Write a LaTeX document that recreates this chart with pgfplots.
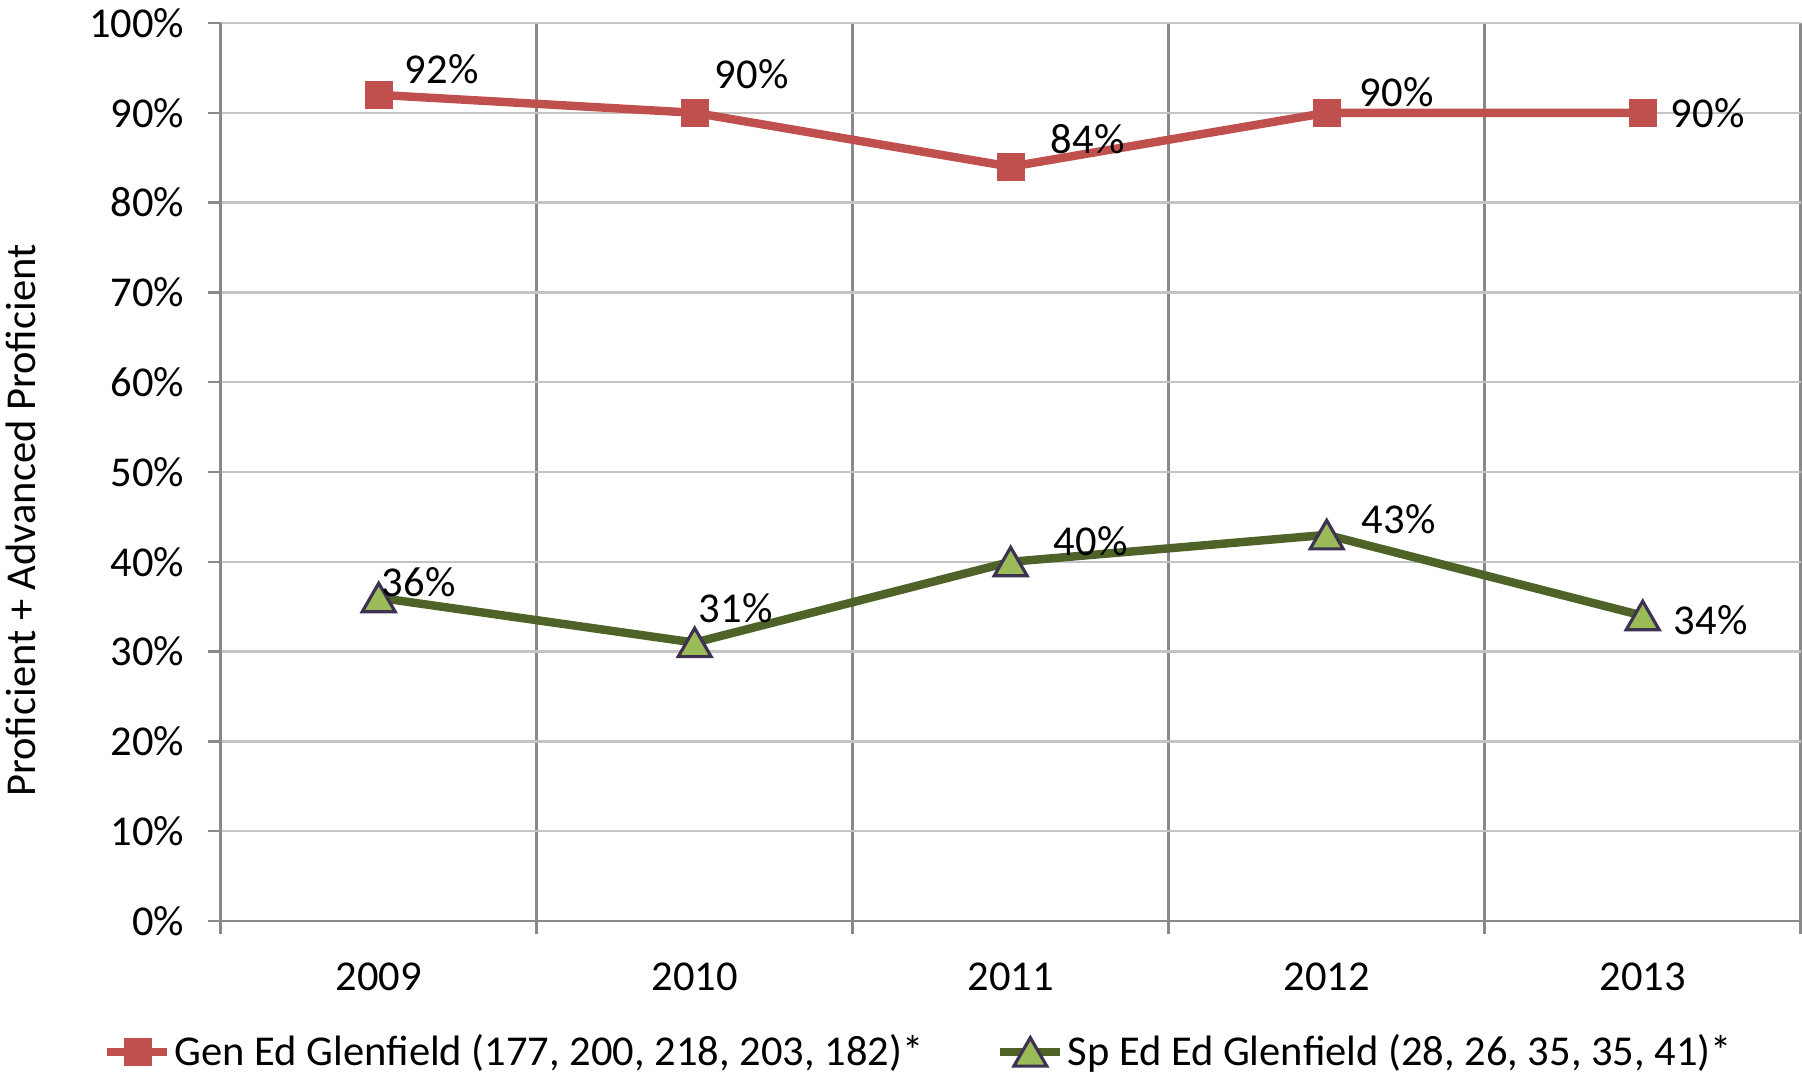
\documentclass[border=0pt]{standalone}
\usepackage{pgfplots}
\pgfplotsset{compat=1.18}
\usepackage{pgfplotstable}
\usepackage{fontspec}
\setmainfont{Carlito}

\definecolor{genred}{HTML}{C0504D}
\definecolor{spgreen}{HTML}{4F6228}
\definecolor{spfill}{HTML}{9BBB59}
\definecolor{spedge}{HTML}{3F3151}
\definecolor{axgray}{HTML}{898989}
\definecolor{gridgray}{HTML}{C4C4C4}

% year index, value, label offset (mm)
\pgfplotstableread{
x y lx ly
0 92 6.3 2.6
1 90 5.7 3.9
2 84 7.7 2.8
3 90 7.0 2.1
4 90 6.5 0.0
}\gened
\pgfplotstableread{
x y lx ly
0 36 4.0 2.0
1 31 4.1 3.9
2 40 8.0 2.5
3 43 7.2 2.0
4 34 6.8 0.0
}\sped

\begin{document}
\begin{tikzpicture}[font=\fontsize{12.1}{14.5}\selectfont]
\begin{axis}[
    at={(0,0)}, anchor=south west,
    scale only axis,
    width=158mm, height=89.8mm,
    xmin=-0.5, xmax=4.5,
    ymin=0, ymax=100,
    axis x line*=bottom, axis y line*=left,
    axis line style={-, axgray, line width=0.7pt},
    xtick={-0.5,0.5,...,4.5},
    xticklabels={2009,2010,2011,2012,2013,},
    xticklabel style={xshift=15.8mm, yshift=-1.6mm},
    ytick={0,10,...,100},
    yticklabel={\pgfmathprintnumber[assume math mode=true]{\tick}\%},
    yticklabel style={xshift=-1.1mm},
    tick align=outside,
    major tick length=1.3mm,
    tick style={axgray, line width=0.7pt},
    xmajorgrids, ymajorgrids,
    x grid style={axgray, line width=0.7pt},
    y grid style={gridgray, line width=0.7pt},
    ylabel={Proficient + Advanced Proficient},
    every axis y label/.style={at={(axis description cs:-0.1264,0.4458)}, rotate=90, anchor=center},
    legend style={at={(axis description cs:0.442,-0.146)}, anchor=center,
        draw=none, legend columns=2,
        /tikz/every even column/.append style={column sep=7mm},
        nodes={inner xsep=0.3mm}},
    legend cell align=left,
    nodes near coords={\pgfmathprintnumber[assume math mode=true]{\pgfplotspointmeta}\%},
    visualization depends on={\thisrow{lx}\as\lx},
    visualization depends on={\thisrow{ly}\as\ly},
    every node near coord/.append style={text=black, anchor=center,
        xshift=\lx*1mm, yshift=\ly*1mm},
]
\addplot[genred, line width=2.4pt, mark=square*, mark size=1.35mm,
    mark options={fill=genred, draw=genred, line width=0.2pt}]
    table[x=x, y=y] {\gened};
\addplot[spgreen, line width=2.4pt, mark=triangle*, mark size=1.9mm,
    mark options={fill=spfill, draw=spedge, line width=0.9pt, yshift=-0.45mm}]
    table[x=x, y=y] {\sped};
\legend{{Gen Ed Glenfield (177, 200, 218, 203, 182)*}, {Sp Ed Ed Glenfield (28, 26, 35, 35, 41)*}}
\end{axis}
\pgfresetboundingbox
\path[use as bounding box] (-22.07mm,-15.8mm) rectangle (158.13mm,92.1mm);
\end{tikzpicture}
\end{document}
